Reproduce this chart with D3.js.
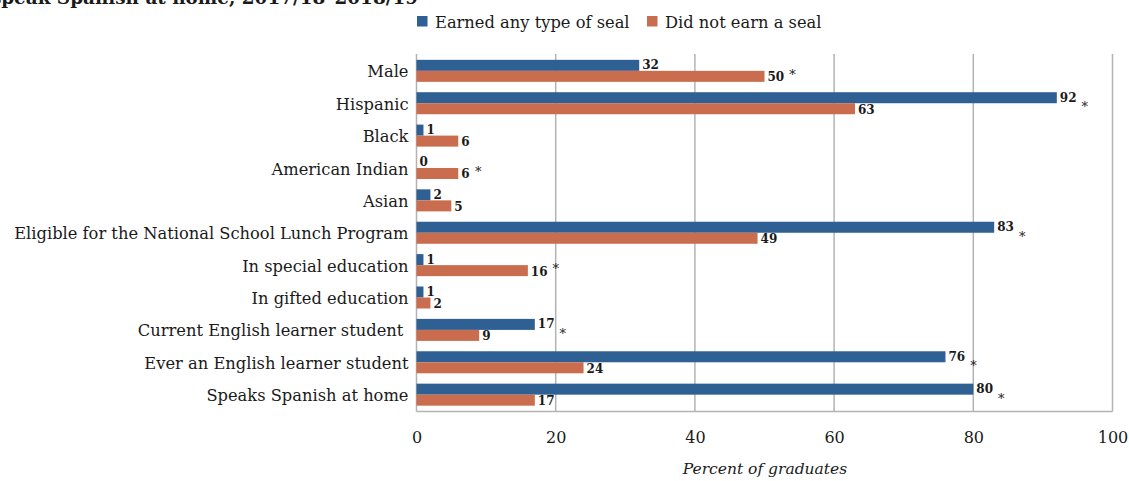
<!DOCTYPE html>
<html>
<head>
<meta charset="utf-8">
<script src="https://cdn.jsdelivr.net/npm/d3@7"></script>
<style>
  html, body { margin: 0; padding: 0; background: #fff; }
  svg { display: block; }
  svg text { font-family: "DejaVu Serif", serif; fill: #1a1a1a; }
</style>
</head>
<body>
<svg id="chart" width="1129" height="481"></svg>
<script>
// Graduate characteristics by seal status
const categories = [
  "Male",
  "Hispanic",
  "Black",
  "American Indian",
  "Asian",
  "Eligible for the National School Lunch Program",
  "In special education",
  "In gifted education",
  "Current English learner student ",
  "Ever an English learner student",
  "Speaks Spanish at home"
];
const seriesNames = ["Earned any type of seal", "Did not earn a seal"];
const earnedSeal   = [32, 92, 1, 0, 2, 83, 1, 1, 17, 76, 80];
const noSeal       = [50, 63, 6, 6, 5, 49, 16, 2, 9, 24, 17];
// categories with a statistically significant difference
const significant  = [true, true, false, true, false, true, true, false, true, true, true];
const xTicks = [0, 20, 40, 60, 80, 100];
const colors = ["#2e6094", "#c96d4e"];

const svg = d3.select("#chart");
const plotLeft = 416.5, plotRight = 1112.5, plotTop = 54, plotBottom = 411.5;
const FONT = "'DejaVu Serif', serif";

const x = d3.scaleLinear().domain([0, 100]).range([plotLeft, plotRight]);
const y = d3.scaleBand().domain(categories).range([plotTop, plotBottom])
  .paddingInner(0.32).paddingOuter(0.18);
const sub = d3.scaleBand().domain(seriesNames).range([0, y.bandwidth()]);

// title (runs off the top edge)
svg.append("text")
  .attr("x", 418).attr("y", 4)
  .attr("text-anchor", "end")
  .style("font-family", FONT)
  .style("font-weight", "bold")
  .style("font-size", "18.4px")
  .text("speak Spanish at home, 2017/18\u20132018/19");

// legend
const legendX = [417, 647];
seriesNames.forEach((name, i) => {
  const g = svg.append("g").attr("transform", `translate(${legendX[i]},0)`);
  g.append("rect").attr("x", 0).attr("y", 16).attr("width", 10.5).attr("height", 10.5).attr("fill", colors[i]);
  g.append("text").attr("x", 18).attr("y", 28)
    .style("font-family", FONT).style("font-size", "16.3px").text(name);
});

// gridlines
svg.append("g").selectAll("line").data(xTicks).join("line")
  .attr("x1", d => x(d)).attr("x2", d => x(d))
  .attr("y1", plotTop).attr("y2", plotBottom)
  .attr("stroke", "#b3b3b3").attr("stroke-width", 1.5);
svg.append("line")
  .attr("x1", plotLeft).attr("x2", plotRight).attr("y1", plotBottom).attr("y2", plotBottom)
  .attr("stroke", "#b3b3b3").attr("stroke-width", 1.5);

// x axis
const xAxis = svg.append("g").attr("transform", `translate(0,${plotBottom})`)
  .call(d3.axisBottom(x).tickValues(xTicks).tickSize(0).tickPadding(20));
xAxis.select(".domain").remove();
xAxis.selectAll("text")
  .style("font-family", FONT)
  .style("font-size", "16px").attr("fill", "#1a1a1a");

// category labels
const yAxis = svg.append("g").attr("transform", `translate(${plotLeft},0)`)
  .call(d3.axisLeft(y).tickSize(0).tickPadding(8));
yAxis.select(".domain").remove();
yAxis.selectAll("text")
  .attr("dy", "0.4em")
  .style("font-family", FONT)
  .style("font-size", "16.3px").style("white-space", "pre").attr("fill", "#1a1a1a");

// bars
const rows = categories.map((c, i) => ({ c, vals: [earnedSeal[i], noSeal[i]], sig: significant[i] }));
const group = svg.append("g").selectAll("g").data(rows).join("g")
  .attr("transform", d => `translate(0,${y(d.c)})`);

group.selectAll("rect").data(d => d.vals.map((v, i) => ({ v, i }))).join("rect")
  .attr("x", x(0)).attr("y", d => sub(seriesNames[d.i]))
  .attr("width", d => x(d.v) - x(0))
  .attr("height", sub.bandwidth())
  .attr("fill", d => colors[d.i]);

// value labels
group.selectAll("text.val").data(d => d.vals.map((v, i) => ({ v, i }))).join("text")
  .attr("class", "val")
  .attr("x", d => x(d.v) + 3)
  .attr("y", d => sub(seriesNames[d.i]) + sub.bandwidth() / 2 + (d.i === 0 ? 4 : 5))
  .style("font-family", FONT)
  .style("font-weight", "bold").style("font-size", "12px")
  .text(d => d.v);

// significance markers, placed after the longer bar's label
group.filter(d => d.sig).append("text")
  .attr("x", d => {
    const m = d3.max(d.vals);
    return x(m) + 3 + String(m).length * 8 + 9;
  })
  .attr("y", y.bandwidth() / 2 + 8)
  .attr("text-anchor", "middle")
  .style("font-family", FONT)
  .style("font-size", "13px")
  .text("*");

// axis title
svg.append("text")
  .attr("x", 765).attr("y", 474)
  .attr("text-anchor", "middle")
  .style("font-family", FONT)
  .style("font-style", "italic").style("font-size", "15.5px")
  .text("Percent of graduates");
</script>
</body>
</html>
